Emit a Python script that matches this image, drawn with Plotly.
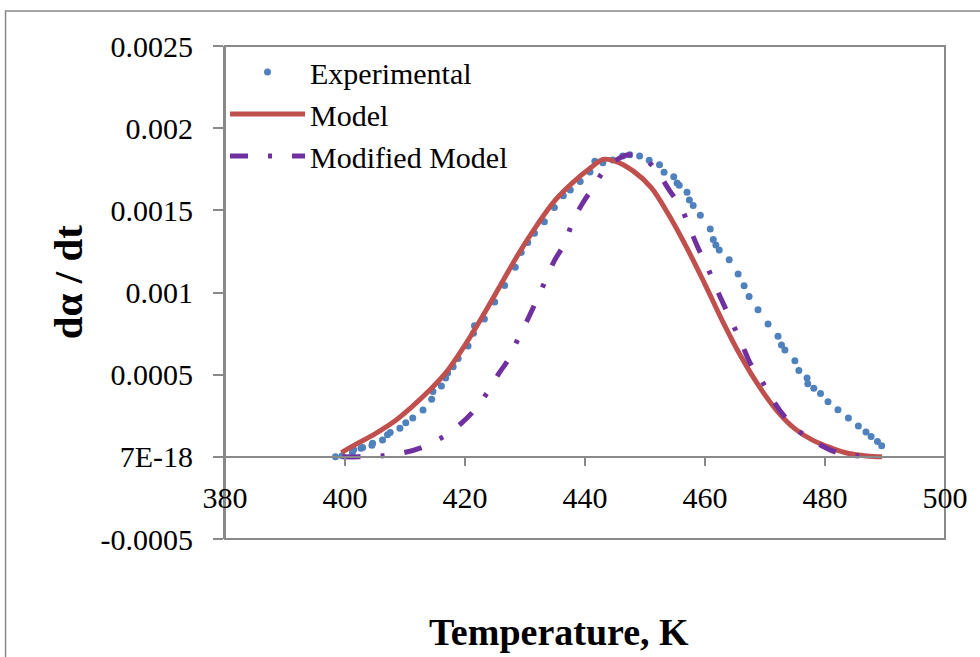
import plotly.graph_objects as go

# Experimental conversion rate vs temperature
exp_T = [398.41, 399.52, 401.23, 401.44, 402.67, 402.94, 404.49, 404.59, 406.25, 407.08,
         407.53, 409.15, 410.13, 411.29, 413.0, 414.44, 414.66, 416.07, 416.77, 417.11,
         418.03, 418.86, 420.5, 421.41, 421.58, 423.23, 424.94, 426.6, 428.37, 429.37,
         430.46, 431.58, 433.23, 434.89, 436.38, 437.55, 439.2, 440.83, 441.64, 442.97,
         444.63, 446.29, 447.45, 449.1, 450.7, 452.42, 453.18, 454.79, 455.34, 455.7,
         457.0, 457.4, 458.03, 459.22, 460.88, 461.38, 461.81, 462.37, 464.03, 465.52,
         466.52, 467.35, 468.84, 470.51, 472.17, 472.75, 473.32, 474.98, 475.64, 477.01,
         477.13, 478.13, 479.25, 480.5, 482.16, 483.9, 485.56, 486.83, 487.68, 488.74,
         489.45]
exp_rate = [0.0, 0.000006, 0.000026, 0.000043, 0.000052, 0.000057, 0.00007, 0.000082, 0.000102, 0.000134,
            0.000148, 0.000174, 0.000207, 0.000236, 0.000285, 0.000351, 0.000398, 0.000431, 0.000479, 0.00051,
            0.000548, 0.000599, 0.000675, 0.000752, 0.000798, 0.000839, 0.000942, 0.001043, 0.001153, 0.001244,
            0.001305, 0.00136, 0.001431, 0.001518, 0.001588, 0.001624, 0.001676, 0.001734, 0.001798, 0.001789,
            0.001807, 0.00183, 0.001838, 0.00183, 0.001805, 0.001777, 0.001731, 0.001705, 0.001667, 0.001652,
            0.00161, 0.001563, 0.00153, 0.00147, 0.001387, 0.001322, 0.001289, 0.001259, 0.0012, 0.001113,
            0.001041, 0.000976, 0.000895, 0.000809, 0.000734, 0.00068, 0.00065, 0.000585, 0.000525, 0.000479,
            0.000445, 0.000418, 0.000386, 0.000335, 0.000286, 0.000236, 0.000187, 0.000151, 0.000124, 0.000093,
            0.000068]

# Model prediction
model_T = [399.4, 402, 405, 408, 411, 414, 417, 420, 423, 426, 429, 432, 435, 438, 441, 443,
           445, 448, 451, 454, 457, 460, 463, 466, 469, 472, 475, 478, 481, 484, 487, 489.5]
model_rate = [0.000026, 0.00008, 0.00014, 0.00021, 0.0003, 0.000402, 0.00052, 0.00068, 0.00086,
              0.00105, 0.00124, 0.00141, 0.00156, 0.00167, 0.00176, 0.00181, 0.0018, 0.00174,
              0.00164, 0.00147, 0.00127, 0.00105, 0.00082, 0.00061, 0.00043, 0.00028, 0.00017,
              0.0001, 0.000055, 0.00002, 0.000005, 0.0]

# Modified model prediction
mod_T = [399.6, 402.4, 406.25, 409.85, 412.8, 416.2, 419.25, 421.46, 423.66, 425.6, 427.3,
         428.9, 430.6, 431.9, 433.45, 434.9, 436.7, 437.9, 439.7, 441.4, 443.4, 446.6, 448.0,
         449.4, 452.1, 454.1, 456.0, 457.4, 458.8, 460.3, 461.7, 463.2, 464.6, 466.1, 467.6,
         469.3, 471.2, 473.4, 475.6, 478.7, 482.0, 485.3, 488.9]
mod_rate = [0.0, 0.0, 0.000006, 0.000026, 0.000057, 0.000118, 0.0002, 0.00028, 0.000388, 0.000505,
            0.000597, 0.000723, 0.000848, 0.00095, 0.001076, 0.001194, 0.001305, 0.001427, 0.001549,
            0.00164, 0.001752, 0.001833, 0.001838, 0.001833, 0.001731, 0.00162, 0.001518, 0.001397,
            0.001275, 0.001163, 0.001041, 0.00092, 0.00081, 0.00069, 0.000565, 0.000473, 0.000351,
            0.000239, 0.000158, 0.000083, 0.000026, 0.000006, 0.0]

x_ticks = [380, 400, 420, 440, 460, 480, 500]
y_ticks = [-0.0005, 0.0, 0.0005, 0.001, 0.0015, 0.002, 0.0025]
y_tick_text = ["-0.0005", "7E-18", "0.0005", "0.001", "0.0015", "0.002", "0.0025"]

FONT = "Liberation Serif, Times New Roman, serif"
GRAY = "#898989"

fig = go.Figure()
fig.add_trace(go.Scatter(
    x=exp_T, y=exp_rate, mode="markers", name="Experimental",
    marker=dict(color="#4F81BD", size=7),
))
fig.add_trace(go.Scatter(
    x=model_T, y=model_rate, mode="lines", name="Model",
    line=dict(color="#C0504D", width=5, shape="spline"),
))
fig.add_trace(go.Scatter(
    x=mod_T, y=mod_rate, mode="lines", name="Modified Model",
    line=dict(color="#7030A0", width=5, shape="spline", dash="18px,20px,4px,20px"),
))

fig.update_layout(
    width=980, height=657,
    margin=dict(l=225, r=30, t=46, b=118),
    paper_bgcolor="white", plot_bgcolor="white",
    font=dict(family=FONT, size=30, color="black"),
    showlegend=True,
    legend=dict(
        x=0.0, y=1.0, xanchor="left", yanchor="top",
        bgcolor="rgba(0,0,0,0)", font=dict(size=30, family=FONT),
        itemwidth=75, tracegroupgap=0,
    ),
    xaxis=dict(
        range=[380, 500], tickvals=x_ticks, ticktext=[str(v) for v in x_ticks],
        anchor="free", position=1 / 6,
        showline=True, linecolor=GRAY, linewidth=2,
        ticks="outside", ticklen=8, tickwidth=2, tickcolor=GRAY,
        ticklabelstandoff=6,
        showgrid=False, zeroline=False,
        tickfont=dict(size=30, family=FONT),
    ),
    yaxis=dict(
        range=[-0.0005, 0.0025], tickvals=y_ticks, ticktext=y_tick_text,
        showline=True, linecolor=GRAY, linewidth=2,
        ticks="outside", ticklen=10, tickwidth=2, tickcolor=GRAY,
        ticklabelstandoff=14,
        showgrid=False, zeroline=False,
        tickfont=dict(size=30, family=FONT),
    ),
    shapes=[
        # plot area frame
        dict(type="rect", xref="paper", yref="paper", x0=0, x1=1, y0=0, y1=1,
             line=dict(color=GRAY, width=2), layer="below"),
        # chart area frame
        dict(type="rect", xref="paper", yref="paper", x0=-0.3048, x1=1.06, y0=-0.3, y1=1.071,
             line=dict(color=GRAY, width=1.5), layer="below"),
    ],
    annotations=[
        dict(text="<b>Temperature, K</b>", xref="paper", yref="paper",
             x=0.4634, y=-0.189, xanchor="center", yanchor="middle", showarrow=False,
             font=dict(size=38, family=FONT)),
        dict(text="<b>dα / dt</b>", xref="paper", yref="paper",
             x=-0.218, y=0.521, xanchor="center", yanchor="middle", showarrow=False,
             textangle=-90, font=dict(size=41, family=FONT)),
    ],
)

fig.write_html("out.html")
